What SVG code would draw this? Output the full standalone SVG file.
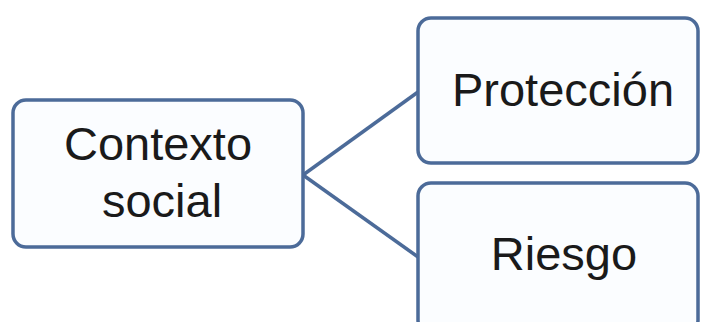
<svg xmlns="http://www.w3.org/2000/svg" width="702" height="322" viewBox="0 0 702 322">
<style>
.box{fill:#fbfdff;stroke:#4c6b99;stroke-width:3.5}
.lbl{font-family:"Liberation Sans",Arial,sans-serif;font-size:47px;fill:#1a1a1a;text-anchor:middle}
.conn{stroke:#4c6b99;stroke-width:3.5;fill:none}
</style>
<rect width="702" height="322" fill="#ffffff"/>
<g id="connectors">
<path class="conn" d="M303 175 L418 92"/>
<path class="conn" d="M303 175 L418 257"/>
</g>
<g id="contexto">
<rect class="box" x="13" y="100" width="290" height="147" rx="13"/>
<text class="lbl" x="158" y="160">Contexto</text>
<text class="lbl" x="162" y="217">social</text>
</g>
<g id="proteccion">
<rect class="box" x="418" y="18" width="280" height="145" rx="13"/>
<text class="lbl" x="563" y="106">Protección</text>
</g>
<g id="riesgo">
<rect class="box" x="418" y="183" width="280" height="150" rx="13"/>
<text class="lbl" x="564" y="270">Riesgo</text>
</g>
</svg>
